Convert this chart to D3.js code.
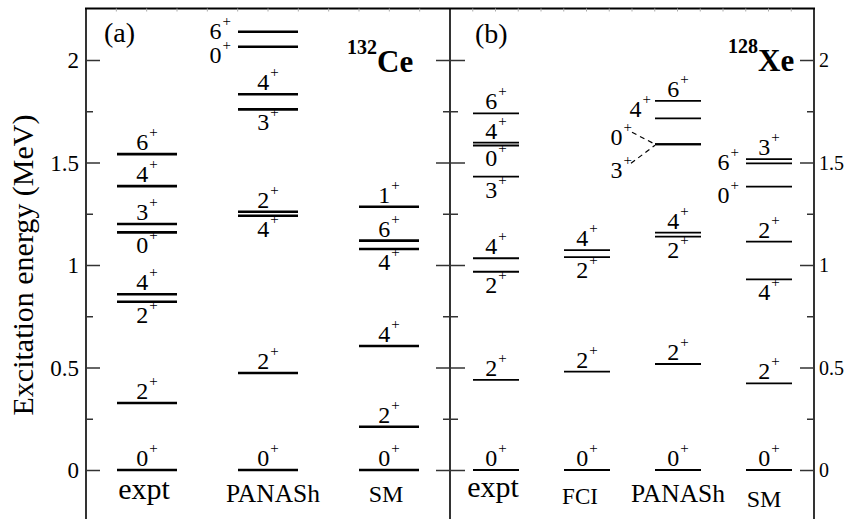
<!DOCTYPE html>
<html><head><meta charset="utf-8">
<script src="https://cdn.jsdelivr.net/npm/d3@7"></script>
<style>
body{margin:0;background:#fff}
svg{display:block}
</style>
</head><body>
<svg id="chart" width="848" height="519" font-family="Liberation Serif, Times New Roman, serif"></svg>
<script>
// ---------------- DATA ----------------
const panelAColumns = ["expt", "PANASh", "SM"];
const panelBColumns = ["expt", "FCI", "PANASh", "SM"];
const panelANucleusMass = "132", panelANucleus = "Ce";
const panelBNucleusMass = "128", panelBNucleus = "Xe";
const panelTags = ["(a)", "(b)"];

// 132Ce
const ceExptE   = [0, 0.327, 0.821, 0.857, 1.159, 1.200, 1.385, 1.541];
const ceExptJ   = ["0", "2", "2", "4", "0", "3", "4", "6"];
const ceExptLab = ["a", "a", "b", "a", "b", "a", "a", "a"];

const cePanE    = [0, 0.473, 1.240, 1.260, 1.759, 1.833, 2.065, 2.138];
const cePanJ    = ["0", "2", "4", "2", "3", "4", "0", "6"];
const cePanLab  = ["a", "a", "b", "a", "b", "a", "ll", "l"];

const ceSmE     = [0, 0.211, 0.605, 1.078, 1.119, 1.284];
const ceSmJ     = ["0", "2", "4", "4", "6", "1"];
const ceSmLab   = ["a", "a", "a", "b", "a", "a"];

// 128Xe
const xeExptE   = [0, 0.440, 0.967, 1.033, 1.431, 1.583, 1.597, 1.740];
const xeExptJ   = ["0", "2", "2", "4", "3", "0", "4", "6"];
const xeExptLab = ["a", "a", "b", "a", "b", "b", "a", "a"];

const xeFciE    = [0, 0.480, 1.038, 1.073];
const xeFciJ    = ["0", "2", "2", "4"];
const xeFciLab  = ["a", "a", "b", "a"];

const xePanE    = [0, 0.517, 1.138, 1.158, 1.589, 1.589, 1.715, 1.801];
const xePanJ    = ["0", "2", "2", "4", "0", "3", "4", "6"];
const xePanLab  = ["a", "a", "b", "a", "du", "dd", "lu", "a"];

const xeSmE     = [0, 0.423, 0.930, 1.114, 1.382, 1.496, 1.516];
const xeSmJ     = ["0", "2", "4", "2", "0", "6", "3"];
const xeSmLab   = ["a", "a", "b", "a", "ll", "l", "a"];

const yMajorTicks = [0, 0.5, 1, 1.5, 2];
const yMajorLabels = ["0", "0.5", "1", "1.5", "2"];
const yMinorTicks = [0.25, 0.75, 1.25, 1.75];
const yAxisTitle = "Excitation energy (MeV)";

// ---------------- DRAWING ----------------
const FONT = '"Liberation Serif", "Times New Roman", serif';
const svg = d3.select("#chart");
const W = 848, H = 519;
const xL = 86, xM = 450, xR = 814, yTop = 8.5;

const y = d3.scaleLinear().domain([0, 2]).range([470, 60]);
const xA = d3.scalePoint().domain(panelAColumns).range([147, 389]);
const xB = d3.scalePoint().domain(panelBColumns).range([496, 769]);

function txt(g) { return g.append("text").attr("font-family", FONT).attr("fill", "#000"); }

// frame
const frame = svg.append("g").attr("stroke", "#000").attr("fill", "none");
frame.append("line").attr("x1", xL - 1).attr("x2", xR + 1).attr("y1", yTop).attr("y2", yTop).attr("stroke-width", 2);
[xL, xM, xR].forEach(x => frame.append("line").attr("x1", x).attr("x2", x).attr("y1", yTop).attr("y2", H + 5).attr("stroke-width", 1.6));

// faint top ticks
function topTicks(x0, x1, n) {
  const s = d3.scaleLinear().domain([0, n]).range([x0, x1]);
  svg.append("g").selectAll("line").data(d3.range(1, n)).join("line")
    .attr("x1", d => s(d)).attr("x2", d => s(d)).attr("y1", yTop).attr("y2", yTop + 3)
    .attr("stroke", "#aaa").attr("stroke-width", 1);
}
topTicks(xL, xM, 12);
topTicks(xM, xR, 16);

function styleAxis(g) {
  g.attr("font-family", FONT);
  g.select(".domain").remove();
  g.selectAll(".tick line").attr("stroke", "#333").attr("stroke-width", 1.5);
  g.selectAll(".tick text").attr("font-family", FONT).attr("fill", "#000");
}

// left axis
svg.append("g").attr("transform", `translate(${xL},0)`)
  .call(d3.axisLeft(y).tickValues(yMajorTicks).tickSize(-14).tickSizeOuter(0).tickPadding(7)
    .tickFormat((d, i) => yMajorLabels[i]))
  .call(styleAxis)
  .call(g => g.selectAll(".tick text").attr("font-size", 23).attr("dy", "0.34em"));
svg.append("g").attr("transform", `translate(${xL},0)`)
  .call(d3.axisLeft(y).tickValues(yMinorTicks).tickSize(-7).tickSizeOuter(0).tickFormat(""))
  .call(styleAxis);

// middle divider ticks (both sides)
[14, -15].forEach(s => {
  svg.append("g").attr("transform", `translate(${xM},0)`)
    .call(d3.axisLeft(y).tickValues(yMajorTicks).tickSize(s).tickSizeOuter(0).tickFormat(""))
    .call(styleAxis);
});
[7, -8].forEach(s => {
  svg.append("g").attr("transform", `translate(${xM},0)`)
    .call(d3.axisLeft(y).tickValues(yMinorTicks).tickSize(s).tickSizeOuter(0).tickFormat(""))
    .call(styleAxis);
});

// right axis
svg.append("g").attr("transform", `translate(${xR},0)`)
  .call(d3.axisRight(y).tickValues(yMajorTicks).tickSize(-14).tickSizeOuter(0).tickPadding(5)
    .tickFormat((d, i) => yMajorLabels[i]))
  .call(styleAxis)
  .call(g => g.selectAll(".tick text").attr("font-size", 20).attr("dy", "0.34em"));
svg.append("g").attr("transform", `translate(${xR},0)`)
  .call(d3.axisRight(y).tickValues(yMinorTicks).tickSize(-7).tickSizeOuter(0).tickFormat(""))
  .call(styleAxis);

// y-axis title
txt(svg).attr("transform", `translate(33,265) rotate(-90)`)
  .attr("text-anchor", "middle").attr("font-size", 30).text(yAxisTitle);

// levels
function spinLabel(g, x, yy, anchor, j) {
  const t = txt(g).attr("x", x).attr("y", yy).attr("text-anchor", anchor).attr("font-size", 24);
  t.append("tspan").text(j);
  t.append("tspan").attr("font-size", 15).attr("dx", 1).attr("dy", -13).text("+");
  return t;
}

function drawColumn(xs, col, halfW, E, J, L, sw) {
  const g = svg.append("g");
  const cx = xs(col), x0 = cx - halfW, x1 = cx + halfW;
  E.forEach((e, i) => {
    const yy = y(e);
    g.append("line").attr("x1", x0).attr("x2", x1).attr("y1", yy).attr("y2", yy)
      .attr("stroke", "#000").attr("stroke-width", sw);
    const p = L[i];
    if (p === "a") spinLabel(g, cx, yy - 4, "middle", J[i]);
    else if (p === "b") spinLabel(g, cx, yy + 21, "middle", J[i]);
    else if (p === "l") spinLabel(g, x0 - 7, yy + 7, "end", J[i]);
    else if (p === "ll") spinLabel(g, x0 - 7, yy + 16, "end", J[i]);
    else if (p === "lu") spinLabel(g, x0 - 4, yy - 1, "end", J[i]);
    else if (p === "du") {
      g.append("line").attr("x1", x0 - 23).attr("y1", yy - 12).attr("x2", x0).attr("y2", yy)
        .attr("stroke", "#000").attr("stroke-width", 1.2).attr("stroke-dasharray", "5,4");
      spinLabel(g, x0 - 23, yy + 1, "end", J[i]);
    } else if (p === "dd") {
      g.append("line").attr("x1", x0 - 24).attr("y1", yy + 19).attr("x2", x0).attr("y2", yy + 1)
        .attr("stroke", "#000").attr("stroke-width", 1.2).attr("stroke-dasharray", "5,4");
      spinLabel(g, x0 - 23, yy + 34, "end", J[i]);
    }
  });
}

drawColumn(xA, "expt", 30, ceExptE, ceExptJ, ceExptLab, 2.6);
drawColumn(xA, "PANASh", 30, cePanE, cePanJ, cePanLab, 2.6);
drawColumn(xA, "SM", 30, ceSmE, ceSmJ, ceSmLab, 2.6);

drawColumn(xB, "expt", 23, xeExptE, xeExptJ, xeExptLab, 1.8);
drawColumn(xB, "FCI", 23, xeFciE, xeFciJ, xeFciLab, 1.8);
drawColumn(xB, "PANASh", 23, xePanE, xePanJ, xePanLab, 1.8);
drawColumn(xB, "SM", 23, xeSmE, xeSmJ, xeSmLab, 1.8);

// column labels
const colStyle = {
  expt: {size: 30, dy: 29, dx: -3},
  PANASh: {size: 25.5, dy: 32, dx: 0},
  SM: {size: 24, dy: 32, dx: -3},
  FCI: {size: 23, dy: 34, dx: -7}
};
panelAColumns.forEach(c => {
  const s = colStyle[c];
  txt(svg).attr("x", xA(c) + s.dx + (c === "PANASh" ? 5 : 0)).attr("y", y(0) + s.dy)
    .attr("text-anchor", "middle").attr("font-size", s.size).text(c);
});
panelBColumns.forEach(c => {
  const s = colStyle[c];
  const extra = c === "SM" ? 5 : (c === "expt" ? -2 : 0);
  txt(svg).attr("x", xB(c) + s.dx + (c === "SM" ? -2 : 0)).attr("y", y(0) + s.dy + extra)
    .attr("text-anchor", "middle").attr("font-size", s.size).text(c);
});

// panel tags
txt(svg).attr("x", 104).attr("y", 42).attr("font-size", 28).text(panelTags[0]);
txt(svg).attr("x", 475).attr("y", 43).attr("font-size", 28).text(panelTags[1]);

// nucleus titles
function nucleus(x, yy, mass, sym) {
  const t = txt(svg).attr("x", x).attr("y", yy).attr("font-weight", "bold");
  t.append("tspan").attr("font-size", 20).attr("dy", -18).text(mass);
  t.append("tspan").attr("font-size", 31).attr("dy", 18).text(sym);
}
nucleus(347, 72, panelANucleusMass, panelANucleus);
nucleus(728, 71, panelBNucleusMass, panelBNucleus);
</script>
</body></html>
